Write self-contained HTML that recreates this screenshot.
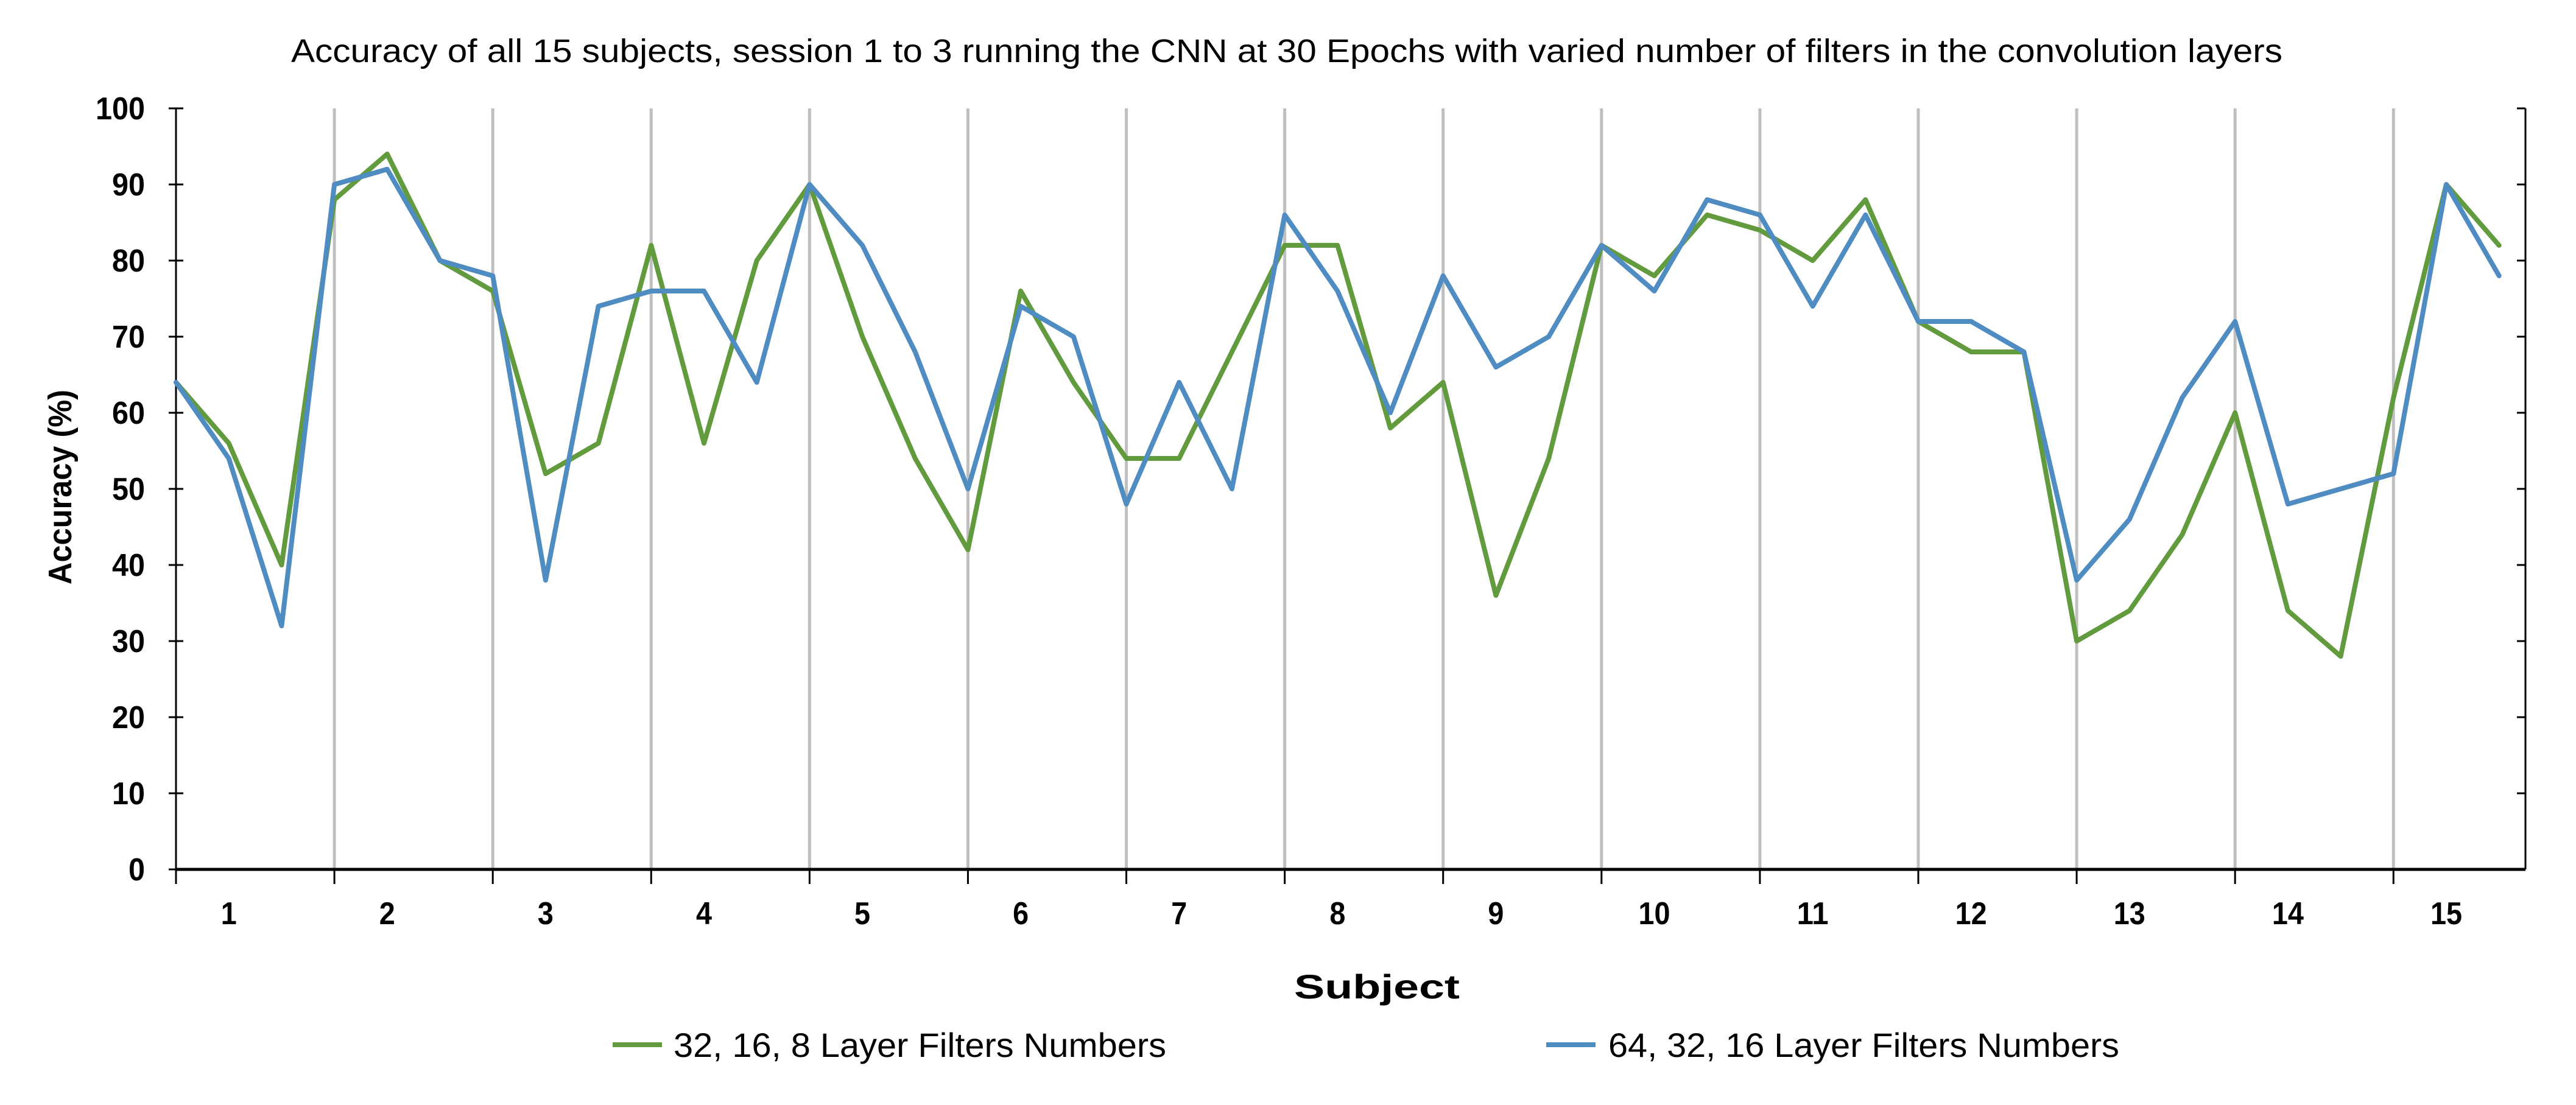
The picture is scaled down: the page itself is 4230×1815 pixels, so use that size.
<!DOCTYPE html>
<html><head><meta charset="utf-8"><style>
html,body{margin:0;padding:0;background:#fff;}
svg{display:block;font-family:"Liberation Sans",sans-serif;}
</style></head><body>
<svg id="chart" width="4230" height="1815" viewBox="0 0 4230 1815" xmlns="http://www.w3.org/2000/svg">
<text x="2113" y="102" text-anchor="middle" font-size="54" textLength="3270" lengthAdjust="spacingAndGlyphs">Accuracy of all 15 subjects, session 1 to 3 running the CNN at 30 Epochs with varied number of filters in the convolution layers</text>
<g id="grid"></g>
<g id="axes"></g>
<g id="series"></g>
<text transform="translate(117,800) rotate(-90)" text-anchor="middle" font-size="54" font-weight="bold" textLength="320" lengthAdjust="spacingAndGlyphs">Accuracy (%)</text>
<text x="2261" y="1640" text-anchor="middle" font-size="56" font-weight="bold" textLength="272" lengthAdjust="spacingAndGlyphs">Subject</text>
<g>
<g>
<line x1="1006" y1="1716" x2="1087" y2="1716" stroke="#629b3e" stroke-width="8"/>
<text x="1106" y="1736" font-size="56" textLength="809" lengthAdjust="spacingAndGlyphs">32, 16, 8 Layer Filters Numbers</text>
</g>
<g>
<line x1="2539" y1="1716" x2="2620" y2="1716" stroke="#4f8cc2" stroke-width="8"/>
<text x="2641" y="1736" font-size="56" textLength="839" lengthAdjust="spacingAndGlyphs">64, 32, 16 Layer Filters Numbers</text>
</g>
</g>
</svg>
<script>
const subjects = ["1","2","3","4","5","6","7","8","9","10","11","12","13","14","15"];
const yTicks = [0,10,20,30,40,50,60,70,80,90,100];
const green = [64,56,40, 88,94,80, 76,52,56, 82,56,80, 90,70,54, 42,76,64, 54,54,68, 82,82,58, 64,36,54, 82,78,86, 84,80,88, 72,68,68, 30,34,44, 60,34,28, 62,90,82];
const blue  = [64,54,32, 90,92,80, 78,38,74, 76,76,64, 90,82,68, 50,74,70, 48,64,50, 86,76,60, 78,66,70, 82,76,88, 86,74,86, 72,72,68, 38,46,62, 72,48,50, 52,90,78];

const NS="http://www.w3.org/2000/svg";
const L=289, R=4147, T=178, B=1428;
const step=(R-L)/44.5;
function x(i){return L+i*step;}
function y(v){return B-(v/100)*(B-T);}
function mk(tag,attrs,parent){const e=document.createElementNS(NS,tag);for(const k in attrs)e.setAttribute(k,attrs[k]);parent.appendChild(e);return e;}
const grid=document.getElementById('grid'), axes=document.getElementById('axes'), series=document.getElementById('series');

for(let s=1;s<subjects.length;s++){
  const gx=x(s*3);
  const g=mk('line',{x1:gx,y1:T,x2:gx,y2:B,stroke:'#bfbfbf','stroke-width':5},grid);
  
  
}
let a=mk('line',{x1:L,y1:T,x2:L,y2:B,stroke:'#000','stroke-width':3},axes);


a=mk('line',{x1:R,y1:T,x2:R,y2:B,stroke:'#000','stroke-width':3},axes);


yTicks.forEach(v=>{
  const yy=y(v);
  const t=mk('line',{x1:L-12,y1:yy,x2:L+12,y2:yy,stroke:'#000','stroke-width':3},axes);
  
  
  const t2=mk('line',{x1:R-14,y1:yy,x2:R,y2:yy,stroke:'#000','stroke-width':3},axes);
  
  
  const s=String(v);
  const lb=mk('text',{x:238,y:yy+18,'text-anchor':'end','font-size':52,'font-weight':'bold',textLength:s.length*27,lengthAdjust:'spacingAndGlyphs'},axes);
  lb.textContent=s;
  
  
});
a=mk('line',{x1:L,y1:B,x2:R,y2:B,stroke:'#000','stroke-width':5},axes);


subjects.forEach((s,k)=>{
  const tx=x(k*3);
  const t=mk('line',{x1:tx,y1:B,x2:tx,y2:B+24,stroke:'#000','stroke-width':3},axes);
  
  
  const lb=mk('text',{x:x(k*3+1),y:1518,'text-anchor':'middle','font-size':52,'font-weight':'bold',textLength:s.length*26,lengthAdjust:'spacingAndGlyphs'},axes);
  lb.textContent=s;
  
  
});
function line(data,color,name){
  const pts=data.map((v,i)=>x(i).toFixed(1)+','+y(v).toFixed(1)).join(' ');
  const p=mk('polyline',{points:pts,fill:'none',stroke:color,'stroke-width':8,'stroke-linejoin':'round','stroke-linecap':'round'},series);
  
  
}
line(green,'#629b3e','series-32-16-8');
line(blue,'#4f8cc2','series-64-32-16');
</script>
</body></html>
